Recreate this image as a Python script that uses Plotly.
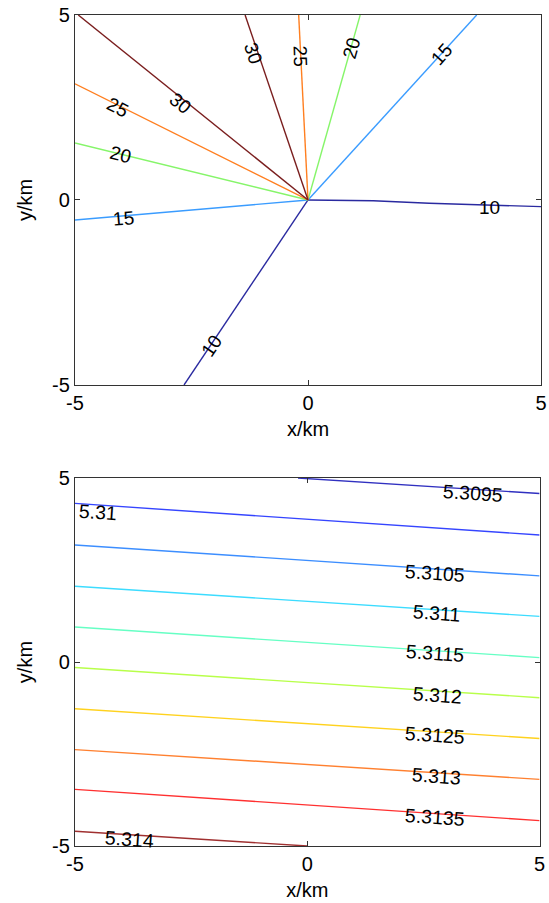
import plotly.graph_objects as go

# ---------------- Top panel: contour rays (levels 10..30) ----------------
top_levels = [10, 15, 20, 25, 30]
top_colors = ["#2a2aa0", "#3a9cff", "#86f56a", "#ff7f20", "#7a1e1e"]
# each level: list of rays, each ray as (x list, y list)
top_rays_x = {
    10: [[0, 1.4, 2.6, 3.7, 5], [0, -2.66]],
    15: [[0, -5], [0, 3.62]],
    20: [[0, -5], [0, 1.12]],
    25: [[0, -5], [0, -0.2]],
    30: [[0, -4.93], [0, -1.35]],
}
top_rays_y = {
    10: [[0, -0.02, -0.09, -0.14, -0.18], [0, -5]],
    15: [[0, -0.54], [0, 5]],
    20: [[0, 1.54], [0, 5]],
    25: [[0, 3.14], [0, 5]],
    30: [[0, 5], [0, 5]],
}
top_label_text = ["30", "30", "25", "25", "20", "20", "15", "15", "10", "10"]
top_label_x = [-1.17, -2.73, -0.17, -4.08, 0.93, -4.03, 2.86, -3.97, 3.9, -2.08]
top_label_y = [3.97, 2.62, 3.9, 2.5, 4.1, 1.22, 3.94, -0.5, -0.2, -3.95]
top_label_ang = [72, 39, 88, 27, -74, 14, -48, -5, 0, -56]

# ---------------- Bottom panel: nearly parallel contours ----------------
bot_levels = ["5.3095", "5.31", "5.3105", "5.311", "5.3115",
              "5.312", "5.3125", "5.313", "5.3135", "5.314"]
bot_colors = ["#3030c0", "#3545ff", "#3c8eff", "#3cdcff", "#66ffc4",
              "#b8ff4a", "#ffd21e", "#ff8030", "#ff3030", "#a03030"]
bot_x = [[-0.2, 5], [-5, 5], [-5, 5], [-5, 5], [-5, 5],
         [-5, 5], [-5, 5], [-5, 5], [-5, 5], [-5, 0.0]]
bot_y = [[5, 4.58], [4.31, 3.45], [3.18, 2.34], [2.06, 1.24], [0.95, 0.12],
         [-0.15, -0.97], [-1.27, -2.08], [-2.38, -3.19], [-3.46, -4.31], [-4.6, -5]]
bot_label_x = [3.56, -4.5, 2.74, 2.78, 2.74, 2.81, 2.74, 2.78, 2.74, -3.82]
bot_label_y = [4.59, 4.08, 2.41, 1.33, 0.24, -0.9, -1.99, -3.1, -4.22, -4.8]
bot_label_ang = 4

tick_vals = [-5, 0, 5]
tick_text = ["-5", "0", "5"]

FONT = "Liberation Sans, Arial, sans-serif"

fig = go.Figure()

for lev, col in zip(top_levels, top_colors):
    for rx, ry in zip(top_rays_x[lev], top_rays_y[lev]):
        fig.add_trace(go.Scatter(x=rx, y=ry, mode="lines",
                                 line=dict(color=col, width=1.4),
                                 xaxis="x", yaxis="y", showlegend=False,
                                 hoverinfo="skip"))

for lev, col, bx, by in zip(bot_levels, bot_colors, bot_x, bot_y):
    fig.add_trace(go.Scatter(x=bx, y=by, mode="lines",
                             line=dict(color=col, width=1.4),
                             xaxis="x2", yaxis="y2", showlegend=False,
                             hoverinfo="skip"))

annotations = []
for t, x, y, a in zip(top_label_text, top_label_x, top_label_y, top_label_ang):
    annotations.append(dict(x=x, y=y, xref="x", yref="y", text=t,
                            textangle=a, showarrow=False,
                            font=dict(family=FONT, size=19, color="black")))
for t, x, y in zip(bot_levels, bot_label_x, bot_label_y):
    annotations.append(dict(x=x, y=y, xref="x2", yref="y2", text=t,
                            textangle=bot_label_ang, showarrow=False,
                            font=dict(family=FONT, size=19.5, color="black")))

axis_common = dict(range=[-5, 5], tickvals=tick_vals, ticktext=tick_text,
                   ticks="inside", ticklen=5, tickcolor="#333",
                   showline=True, linecolor="#333", linewidth=1.2,
                   mirror="ticks", showgrid=False, zeroline=False,
                   automargin=False,
                   tickfont=dict(family=FONT, size=20, color="black"),
                   title_font=dict(family=FONT, size=20, color="black"))

fig.update_layout(
    width=549, height=903,
    margin=dict(l=75, r=8, t=15, b=57, autoexpand=False),
    plot_bgcolor="white", paper_bgcolor="white",
    showlegend=False,
    xaxis=dict(axis_common, domain=[0, 1], anchor="y",
               title=dict(text="x/km", standoff=8)),
    yaxis=dict(axis_common, domain=[0.5548, 1], anchor="x",
               title=dict(text="y/km", standoff=14)),
    xaxis2=dict(axis_common, domain=[0, 0.997], anchor="y2",
                title=dict(text="x/km", standoff=8)),
    yaxis2=dict(axis_common, domain=[0, 0.4428], anchor="x2",
                title=dict(text="y/km", standoff=14)),
    annotations=annotations,
)

fig.write_html("out.html")
